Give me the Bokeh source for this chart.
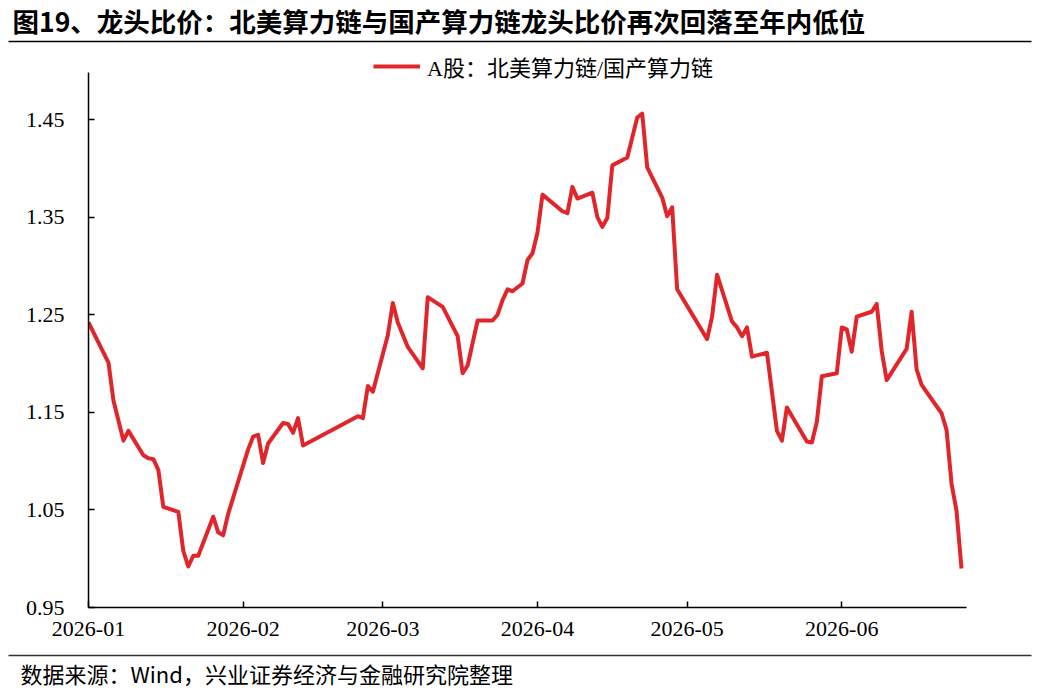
import datetime as dt
import pandas as pd
from bokeh.plotting import figure
from bokeh.layouts import column
from bokeh.models import Range1d, FixedTicker, DatetimeTickFormatter, Legend, LegendItem, ColumnDataSource
from bokeh.core.properties import value
from bokeh.embed import file_html
from bokeh.resources import INLINE

title_text = "图19、龙头比价：北美算力链与国产算力链龙头比价再次回落至年内低位"
source_text = "数据来源：Wind，兴业证券经济与金融研究院整理"
series_name = "A股：北美算力链/国产算力链"

dates = [
    "2026-01-01", "2026-01-05", "2026-01-06", "2026-01-08", "2026-01-09", "2026-01-12",
    "2026-01-13", "2026-01-14", "2026-01-15", "2026-01-16", "2026-01-19", "2026-01-20",
    "2026-01-21", "2026-01-22", "2026-01-23", "2026-01-26", "2026-01-27", "2026-01-28",
    "2026-01-29", "2026-02-02", "2026-02-03", "2026-02-04", "2026-02-05", "2026-02-06",
    "2026-02-09", "2026-02-10", "2026-02-11", "2026-02-12", "2026-02-13", "2026-02-24",
    "2026-02-25", "2026-02-26", "2026-02-27", "2026-03-02", "2026-03-03", "2026-03-04",
    "2026-03-06", "2026-03-09", "2026-03-10", "2026-03-13", "2026-03-16", "2026-03-17",
    "2026-03-18", "2026-03-20", "2026-03-23", "2026-03-24", "2026-03-25", "2026-03-26",
    "2026-03-27", "2026-03-29", "2026-03-30", "2026-03-31", "2026-04-01", "2026-04-02",
    "2026-04-06", "2026-04-07", "2026-04-08", "2026-04-09", "2026-04-12", "2026-04-13",
    "2026-04-14", "2026-04-15", "2026-04-16", "2026-04-19", "2026-04-21", "2026-04-22",
    "2026-04-23", "2026-04-26", "2026-04-27", "2026-04-28", "2026-04-29", "2026-05-05",
    "2026-05-06", "2026-05-07", "2026-05-10", "2026-05-11", "2026-05-12", "2026-05-13",
    "2026-05-14", "2026-05-17", "2026-05-19", "2026-05-20", "2026-05-21", "2026-05-25",
    "2026-05-26", "2026-05-27", "2026-05-28", "2026-05-31", "2026-06-01", "2026-06-02",
    "2026-06-03", "2026-06-04", "2026-06-07", "2026-06-08", "2026-06-09", "2026-06-10",
    "2026-06-14", "2026-06-15", "2026-06-16", "2026-06-17", "2026-06-21", "2026-06-22",
    "2026-06-23", "2026-06-24", "2026-06-25",
]
ratio = [
    1.242, 1.201, 1.162, 1.121, 1.131, 1.106,
    1.103, 1.102, 1.091, 1.053, 1.048, 1.008,
    0.992, 1.003, 1.003, 1.043, 1.027, 1.024,
    1.046, 1.112, 1.125, 1.127, 1.098, 1.118,
    1.139, 1.138, 1.129, 1.144, 1.116, 1.146,
    1.144, 1.177, 1.171, 1.229, 1.262, 1.242,
    1.217, 1.195, 1.268, 1.258, 1.228, 1.190,
    1.198, 1.244, 1.244, 1.250, 1.265, 1.276,
    1.274, 1.282, 1.306, 1.313, 1.334, 1.373,
    1.356, 1.354, 1.381, 1.369, 1.375, 1.350,
    1.340, 1.349, 1.403, 1.411, 1.452, 1.456,
    1.401, 1.370, 1.351, 1.360, 1.276, 1.225,
    1.248, 1.291, 1.243, 1.237, 1.228, 1.237,
    1.207, 1.211, 1.131, 1.121, 1.155, 1.120,
    1.119, 1.140, 1.187, 1.190, 1.237, 1.235,
    1.212, 1.248, 1.253, 1.261, 1.213, 1.183,
    1.215, 1.253, 1.194, 1.178, 1.149, 1.132,
    1.077, 1.049, 0.990,
]
y_ticks = [0.95, 1.05, 1.15, 1.25, 1.35, 1.45]
y_axis_span = (0.95, 1.498)
x_tick_dates = ["2026-01-01", "2026-02-01", "2026-03-01", "2026-04-01", "2026-05-01", "2026-06-01"]

W = 1038
LINE_RED = "#E0262B"
TOP_H = 48
MAIN_H = 602
BOT_H = 40


def band(height):
    f = figure(width=W, height=height, x_range=Range1d(0, W), y_range=Range1d(height, 0),
               output_backend="svg", toolbar_location=None,
               x_axis_location=None, y_axis_location=None,
               min_border=0, min_border_left=0, min_border_right=0,
               min_border_top=0, min_border_bottom=0)
    f.frame_align = False
    f.grid.visible = False
    f.outline_line_color = None
    return f


# ---------- title band ----------
top = band(TOP_H)
top.text(x=[12], y=[20], text=[title_text], text_font=value("Noto Sans CJK SC"),
         text_font_style="bold", text_font_size="26.5px", text_baseline="middle",
         text_color="black")
top.segment(x0=[8], y0=[41], x1=[1031], y1=[41], line_color="black", line_width=1.5)

# ---------- main chart ----------
# frame: page x 88..966, page y 50..607 (0.1 per 97.6 px)
src = ColumnDataSource(dict(date=pd.to_datetime(dates), ratio=ratio))
p = figure(width=W, height=MAIN_H, x_axis_type="datetime",
           x_range=Range1d(dt.datetime(2026, 1, 1), dt.datetime(2026, 6, 26)),
           y_range=Range1d(0.95, 0.95 + (607 - 50) / 976.0),
           output_backend="svg", toolbar_location=None,
           min_border_left=88, min_border_right=72, min_border_top=2,
           min_border_bottom=TOP_H + MAIN_H - 607)
p.frame_align = False
p.grid.visible = False
p.outline_line_color = None
p.background_fill_color = "white"
p.border_fill_color = "white"

r = p.line(x="date", y="ratio", source=src, line_color=LINE_RED, line_width=4,
           line_join="round")

tick_ms = [pd.Timestamp(d).value // 10**6 for d in x_tick_dates]
p.xaxis.ticker = FixedTicker(ticks=tick_ms)
fmt = "%Y-%m"
p.xaxis.formatter = DatetimeTickFormatter(microseconds=fmt, milliseconds=fmt, seconds=fmt,
                                          minsec=fmt, minutes=fmt, hourmin=fmt, hours=fmt,
                                          days=fmt, months=fmt, years=fmt)
p.yaxis.ticker = FixedTicker(ticks=y_ticks)
p.yaxis.bounds = y_axis_span

for ax in (p.xaxis[0], p.yaxis[0]):
    ax.axis_line_color = "black"
    ax.axis_line_width = 1.5
    ax.major_tick_in = 6
    ax.major_tick_out = 0
    ax.major_tick_line_color = "black"
    ax.major_tick_line_width = 1.5
    ax.minor_tick_line_color = None
    ax.major_label_text_font = "Liberation Serif"
    ax.major_label_text_font_size = "22px"
    ax.major_label_text_color = "black"
p.yaxis.major_label_standoff = 24
p.xaxis.major_label_standoff = 14

legend = Legend(items=[LegendItem(label=series_name, renderers=[r])],
                location=(285, 537 - 12), orientation="horizontal",
                label_text_font="Liberation Serif, Noto Sans CJK SC",
                label_text_font_size="22px", label_text_color="black",
                glyph_width=47, glyph_height=24, label_height=24, label_standoff=7,
                padding=0, margin=0, spacing=0,
                border_line_color=None, background_fill_alpha=0)
p.add_layout(legend)

# ---------- source band ----------
bot = band(BOT_H)
bot.segment(x0=[8], y0=[5], x1=[1031], y1=[5], line_color="#333333", line_width=1.5)
bot.text(x=[20], y=[22], text=[source_text], text_font=value("Noto Sans CJK SC"),
         text_font_size="22px", text_baseline="middle", text_color="black")

layout = column(top, p, bot, spacing=0)
open("out.html", "w").write(file_html(layout, INLINE))
